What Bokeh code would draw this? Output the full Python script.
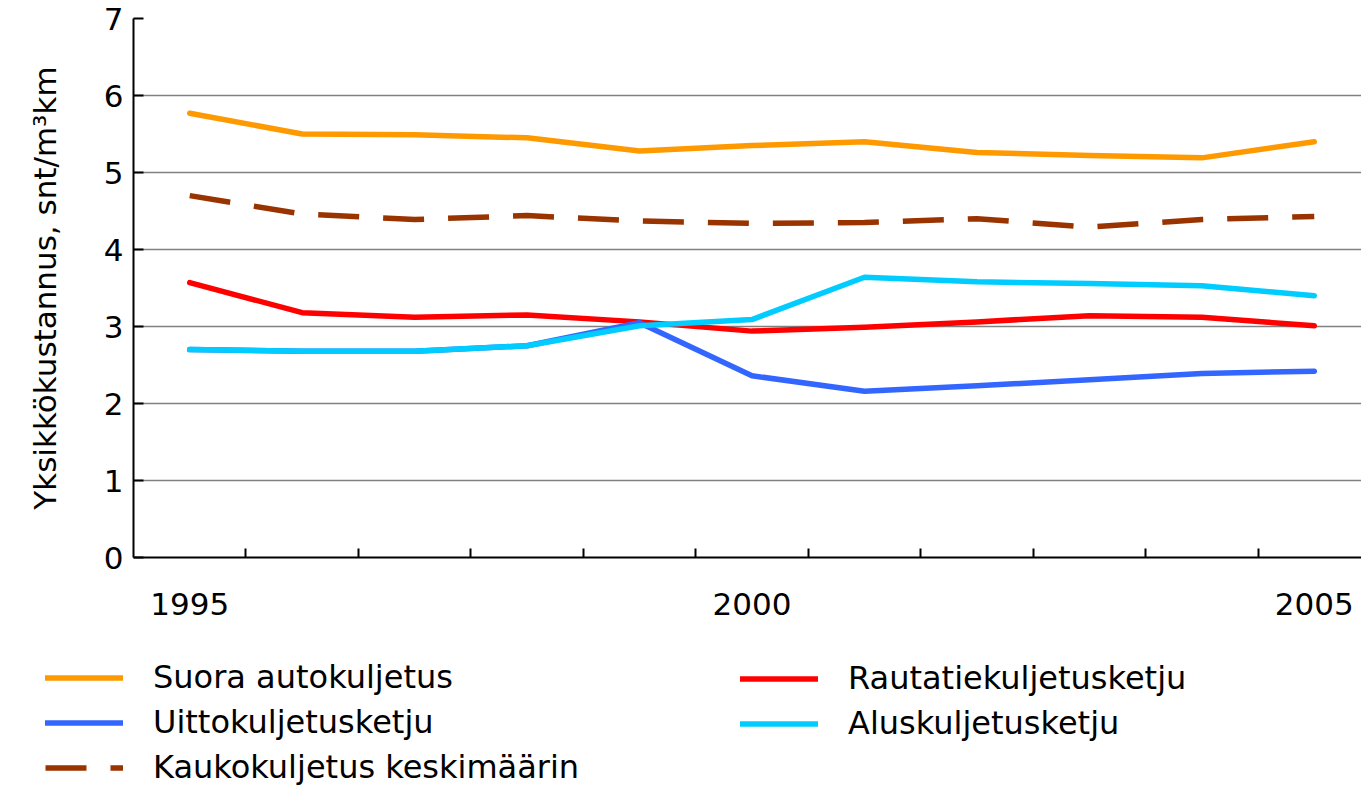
from bokeh.plotting import figure
from bokeh.models import FixedTicker, LinearAxis, Legend, LegendItem, Range1d
from bokeh.layouts import column
from bokeh.embed import file_html
from bokeh.resources import INLINE

years = [1995, 1996, 1997, 1998, 1999, 2000, 2001, 2002, 2003, 2004, 2005]
suora = [5.77, 5.50, 5.49, 5.45, 5.28, 5.35, 5.40, 5.26, 5.22, 5.19, 5.40]
rautatie = [3.57, 3.18, 3.12, 3.15, 3.06, 2.94, 2.99, 3.06, 3.14, 3.12, 3.01]
uitto = [2.70, 2.68, 2.68, 2.75, 3.05, 2.36, 2.16, 2.23, 2.31, 2.39, 2.42]
alus = [2.70, 2.68, 2.68, 2.75, 3.01, 3.09, 3.64, 3.58, 3.56, 3.53, 3.40]
kauko = [4.70, 4.46, 4.39, 4.44, 4.37, 4.34, 4.35, 4.40, 4.29, 4.39, 4.43]

y_ticks = [0, 1, 2, 3, 4, 5, 6, 7]
x_label_ticks = [1995, 2000, 2005]
x_sep_ticks = [1995.5, 1996.5, 1997.5, 1998.5, 1999.5, 2000.5, 2001.5, 2002.5, 2003.5, 2004.5]

FONT = "DejaVu Sans"
FS = "31px"
LFS = "32px"

series = {"suora": suora, "raut": rautatie, "uitto": uitto, "alus": alus, "kauko": kauko}
styles = {
    "suora": dict(line_color="#FF9900", line_width=5.5, line_cap="round", line_join="round"),
    "raut": dict(line_color="#FF0000", line_width=5.5, line_cap="round", line_join="round"),
    "uitto": dict(line_color="#3366FF", line_width=5.5, line_cap="round", line_join="round"),
    "alus": dict(line_color="#00CCFF", line_width=5.5, line_cap="round", line_join="round"),
    "kauko": dict(line_color="#993300", line_width=5.5, line_dash="41 24", line_join="round"),
}

p = figure(width=1361, height=640,
           x_range=Range1d(1994.5, 2005.42), y_range=Range1d(0, 7),
           output_backend="svg", toolbar_location=None,
           x_axis_location=None, y_axis_location=None,
           min_border_top=18, min_border_right=0, min_border_left=133,
           min_border_bottom=83)
p.outline_line_color = None
p.background_fill_color = "white"
p.frame_align = False

# y axis
yax = LinearAxis(ticker=FixedTicker(ticks=y_ticks))
yax.axis_line_color = "black"
yax.axis_line_width = 2
yax.major_tick_in = 10
yax.major_tick_out = 0
yax.major_tick_line_color = "black"
yax.major_tick_line_width = 2
yax.minor_tick_line_color = None
yax.major_label_text_font = FONT
yax.major_label_text_font_size = FS
yax.major_label_text_color = "black"
yax.major_label_standoff = 10
yax.axis_label = "Yksikkökustannus, snt/m³km"
yax.axis_label_text_font = FONT
yax.axis_label_text_font_size = FS
yax.axis_label_text_font_style = "normal"
yax.axis_label_text_color = "black"
yax.axis_label_standoff = 38
p.add_layout(yax, "left")

# x axis: labels at 1995/2000/2005, separator ticks between years
xax = LinearAxis(ticker=FixedTicker(ticks=x_label_ticks, minor_ticks=x_sep_ticks))
xax.axis_line_color = "black"
xax.axis_line_width = 2
xax.major_tick_line_color = None
xax.major_tick_in = 0
xax.major_tick_out = 0
xax.minor_tick_in = 9
xax.minor_tick_out = 0
xax.minor_tick_line_color = "black"
xax.minor_tick_line_width = 2
xax.major_label_text_font = FONT
xax.major_label_text_font_size = FS
xax.major_label_text_color = "black"
xax.major_label_standoff = 35
p.add_layout(xax, "below")

p.xgrid.visible = False
p.ygrid.ticker = FixedTicker(ticks=y_ticks)
p.ygrid.grid_line_color = "#808080"
p.ygrid.grid_line_width = 1.5

for k in ["suora", "raut", "uitto", "alus", "kauko"]:
    p.line(years, series[k], **styles[k])

# legend figure (its series lie outside its ranges; only the legend shows)
lf = figure(width=1361, height=149, x_range=Range1d(0, 1), y_range=Range1d(0, 1),
            output_backend="svg", toolbar_location=None,
            x_axis_location=None, y_axis_location=None,
            min_border=0)
lf.outline_line_color = None
lf.xgrid.visible = False
lf.ygrid.visible = False
lf.frame_align = False

lr = {k: lf.line(years, series[k], **v) for k, v in styles.items()}


def make_legend(items, loc):
    lg = Legend(items=items, location=loc)
    lg.orientation = "vertical"
    lg.border_line_color = None
    lg.background_fill_alpha = 0
    lg.glyph_width = 78
    lg.glyph_height = 37
    lg.label_standoff = 30
    lg.label_text_font = FONT
    lg.label_text_font_size = LFS
    lg.label_text_color = "black"
    lg.label_height = 37
    lg.spacing = 7
    lg.padding = 0
    lg.margin = 0
    return lg


legA = make_legend([
    LegendItem(label="Suora autokuljetus", renderers=[lr["suora"]]),
    LegendItem(label="Uittokuljetusketju", renderers=[lr["uitto"]]),
    LegendItem(label="Kaukokuljetus keskimäärin", renderers=[lr["kauko"]]),
], (45, 3))
legB = make_legend([
    LegendItem(label="Rautatiekuljetusketju", renderers=[lr["raut"]]),
    LegendItem(label="Aluskuljetusketju", renderers=[lr["alus"]]),
], (740, 47))
lf.add_layout(legA, "center")
lf.add_layout(legB, "center")

layout = column(p, lf, spacing=0)
open("out.html", "w").write(file_html(layout, INLINE))
